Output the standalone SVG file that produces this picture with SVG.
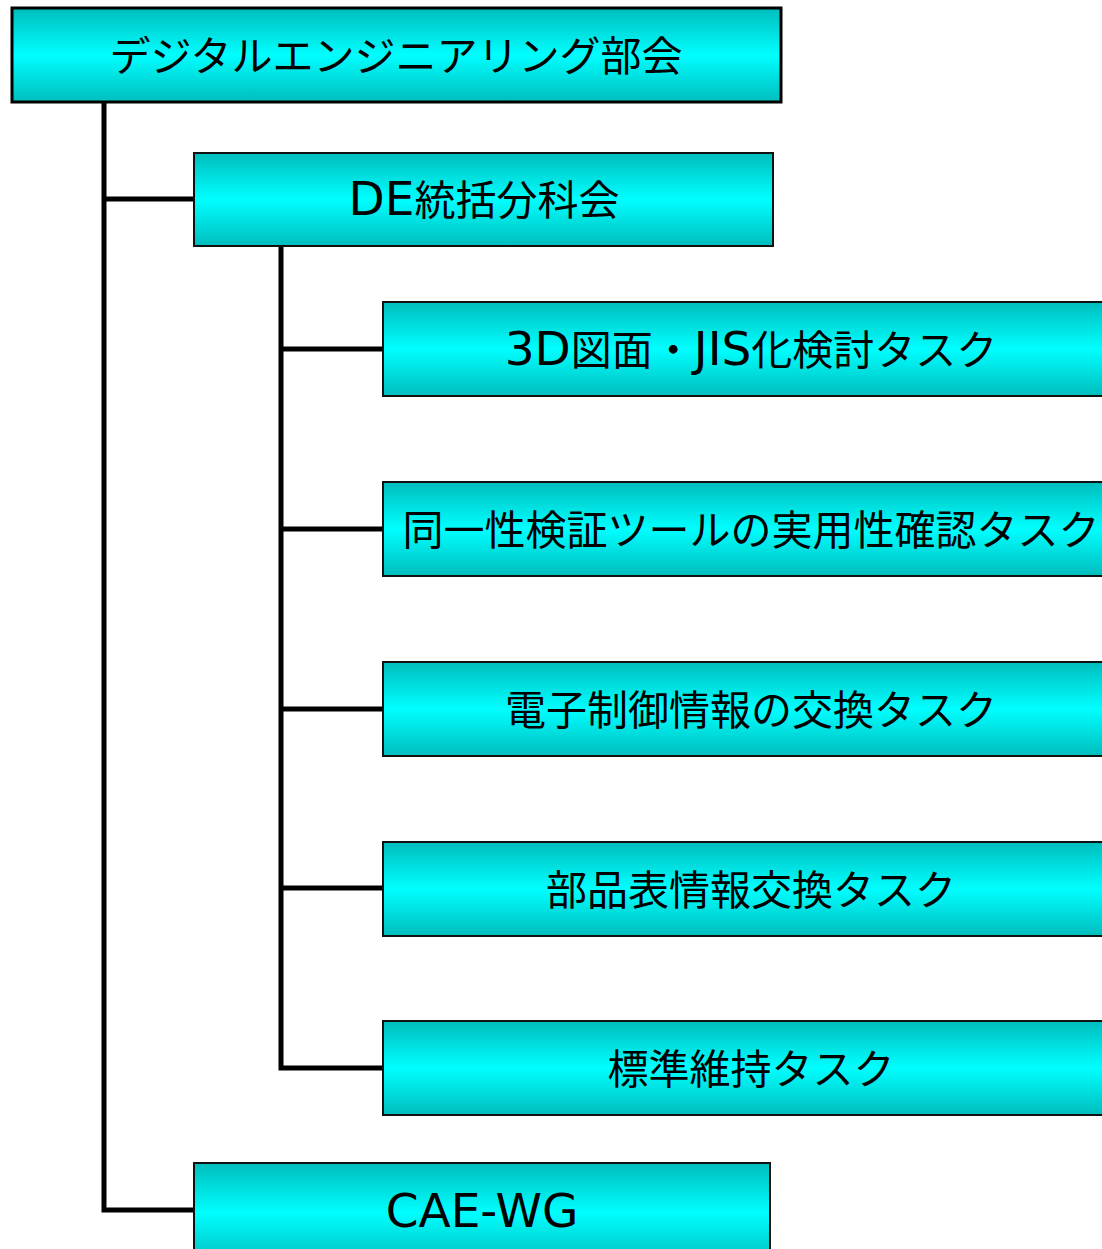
<svg xmlns="http://www.w3.org/2000/svg" width="1102" height="1249" viewBox="0 0 1102 1249">
<defs>
<linearGradient id="g" x1="0" y1="0" x2="0" y2="1">
<stop offset="0" stop-color="#00BDBD"/>
<stop offset="0.5" stop-color="#00FFFF"/>
<stop offset="1" stop-color="#00BDBD"/>
</linearGradient>
</defs>
<style>
.box{fill:url(#g);stroke:#111;stroke-width:2}
.t{font-family:"DejaVu Sans","Noto Sans CJK JP",sans-serif;font-size:41px;fill:#000;text-anchor:middle}
.l{font-size:47px}
.c{fill:none;stroke:#000;stroke-width:5}
</style>
<g id="connectors">
<path class="c" d="M104 102V1210H194M104 199H194"/>
<path class="c" d="M281 246V1068H383M281 349H383M281 529H383M281 709H383M281 888H383"/>
</g>
<g id="n1"><rect class="box" x="12" y="8" width="769" height="94" style="stroke-width:3;stroke:#000"/><text class="t" x="396" y="71">デジタルエンジニアリング部会</text></g>
<g id="n2"><rect class="box" x="194" y="153" width="579" height="93"/><text class="t" x="484" y="215"><tspan class="l">DE</tspan>統括分科会</text></g>
<g id="n3"><rect class="box" x="383" y="302" width="740" height="94"/><text class="t" x="751" y="365"><tspan class="l">3D</tspan>図面・<tspan class="l">JIS</tspan>化検討タスク</text></g>
<g id="n4"><rect class="box" x="383" y="482" width="740" height="94"/><text class="t" x="751" y="545">同一性検証ツールの実用性確認タスク</text></g>
<g id="n5"><rect class="box" x="383" y="662" width="740" height="94"/><text class="t" x="751" y="725">電子制御情報の交換タスク</text></g>
<g id="n6"><rect class="box" x="383" y="842" width="740" height="94"/><text class="t" x="751" y="905">部品表情報交換タスク</text></g>
<g id="n7"><rect class="box" x="383" y="1021" width="740" height="94"/><text class="t" x="751" y="1084">標準維持タスク</text></g>
<g id="n8"><rect class="box" x="194" y="1163" width="576" height="100"/><text class="t l" x="482" y="1227">CAE-WG</text></g>
</svg>
